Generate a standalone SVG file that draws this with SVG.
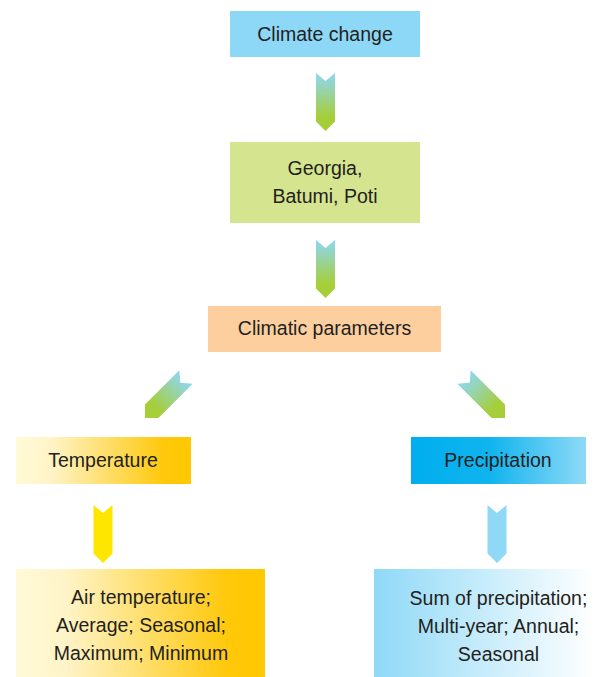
<svg xmlns="http://www.w3.org/2000/svg" width="594" height="677" viewBox="0 0 594 677">
<defs>
<style>
text{font-family:"Liberation Sans",Arial,sans-serif;font-size:19.5px;fill:#231f20;text-anchor:middle}
</style>
<linearGradient id="gArrow" x1="0" y1="0" x2="0" y2="1">
<stop offset="0" stop-color="#8dd7f7"/><stop offset="0.75" stop-color="#a6ce39"/><stop offset="1" stop-color="#a6ce39"/>
</linearGradient>
<linearGradient id="gYellow" x1="0" y1="0" x2="1" y2="0">
<stop offset="0" stop-color="#fffad6"/><stop offset="0.2" stop-color="#fff4c8"/><stop offset="0.85" stop-color="#ffc80a"/><stop offset="1" stop-color="#ffc800"/>
</linearGradient>
<linearGradient id="gBlue" x1="0" y1="0" x2="1" y2="0">
<stop offset="0" stop-color="#00aeef"/><stop offset="0.45" stop-color="#10b4ee"/><stop offset="1" stop-color="#8fd9f7"/>
</linearGradient>
<linearGradient id="gBlueWhite" x1="0" y1="0" x2="1" y2="0">
<stop offset="0" stop-color="#8fd9f7"/><stop offset="1" stop-color="#ffffff"/>
</linearGradient>
<path id="chev" d="M-9.5,-58 L0,-50 L9.5,-58 L9.5,-9.5 L0,0 L-9.5,-9.5 Z"/>
</defs>
<g id="connectors">
<use href="#chev" fill="url(#gArrow)" transform="translate(325.5,131)"/>
<use href="#chev" fill="url(#gArrow)" transform="translate(325.5,298)"/>
<use href="#chev" fill="url(#gArrow)" transform="translate(145,418) rotate(45)"/>
<use href="#chev" fill="url(#gArrow)" transform="translate(505,418) rotate(-45)"/>
<use href="#chev" fill="#ffe600" transform="translate(103,563)"/>
<use href="#chev" fill="#8fd9f7" transform="translate(497,563)"/>
</g>
<g id="climate-change">
<rect x="230" y="11" width="190" height="46" fill="#8dd7f7"/>
<text x="325" y="41">Climate change</text>
</g>
<g id="georgia">
<rect x="230" y="142" width="190" height="81" fill="#d5e48f"/>
<text x="325" y="175">Georgia,</text>
<text x="325" y="203">Batumi, Poti</text>
</g>
<g id="climatic-parameters">
<rect x="208" y="306" width="233" height="46" fill="#fdcf9f"/>
<text x="324.5" y="335">Climatic parameters</text>
</g>
<g id="temperature">
<rect x="16" y="437" width="175" height="47" fill="url(#gYellow)"/>
<text x="103" y="467">Temperature</text>
</g>
<g id="precipitation">
<rect x="411" y="437" width="175" height="47" fill="url(#gBlue)"/>
<text x="498" y="467">Precipitation</text>
</g>
<g id="temperature-details">
<rect x="16" y="569" width="249" height="108" fill="url(#gYellow)"/>
<text x="141" y="604">Air temperature;</text>
<text x="141" y="632">Average; Seasonal;</text>
<text x="141" y="660">Maximum; Minimum</text>
</g>
<g id="precipitation-details">
<rect x="374" y="569" width="220" height="108" fill="url(#gBlueWhite)"/>
<text x="498.5" y="605">Sum of precipitation;</text>
<text x="498.5" y="633">Multi-year; Annual;</text>
<text x="498.5" y="661">Seasonal</text>
</g>
</svg>
